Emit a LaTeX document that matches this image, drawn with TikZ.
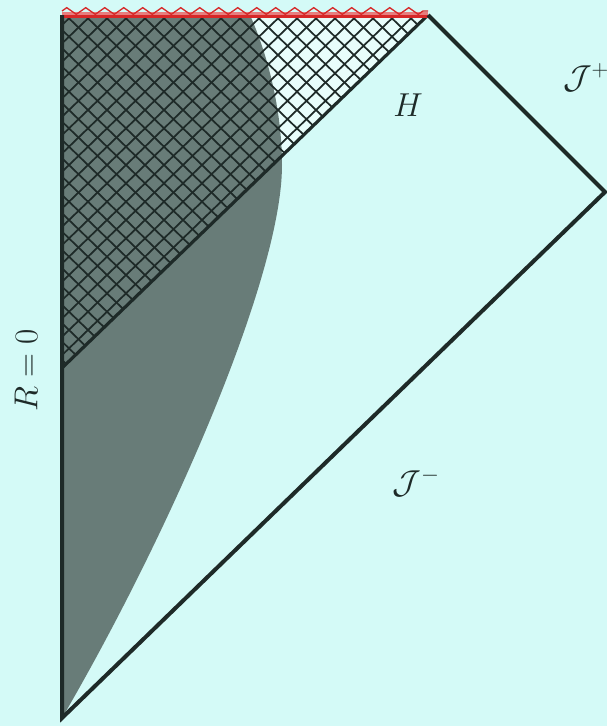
\documentclass[tikz,border=0pt]{standalone}
\usepackage{amsmath,amssymb}
\usepackage{tikz}
\usetikzlibrary{decorations.pathmorphing}
\usepackage{xcolor}
\definecolor{sky}{RGB}{212,250,247}
\definecolor{pale}{RGB}{232,253,251}
\definecolor{star}{RGB}{104,124,120}
\definecolor{ink}{RGB}{30,42,40}
\definecolor{sing}{RGB}{215,40,40}
\tikzset{
  edge/.style={draw=ink,line width=3pt,line join=miter},
  horizon/.style={draw=ink,line width=2.4pt},
  hatch/.style={draw=ink,line width=1.3pt},
  lbl/.style={text=ink,font=\fontsize{23}{28}\selectfont,inner sep=0pt},
}

\begin{document}
\begin{tikzpicture}[x=0.75pt,y=-0.75pt]
  \fill[sky] (0,0) rectangle (607,726);
  \useasboundingbox (0,0) rectangle (607,726);
  \coordinate (O) at (62,718);
  \coordinate (rtop) at (62,15);
  \coordinate (iplus) at (428,15);
  \coordinate (izero) at (605,192);
  \coordinate (hbase) at (62,368);
  \coordinate (stop) at (250,15);
  \coordinate (sbulge) at (282,165);
  \fill[pale] (rtop) -- (iplus) -- (hbase) -- cycle;
  \fill[star] (O) -- (rtop) -- (stop) .. controls (270,60) and (282,115) .. (sbulge)
    .. controls (282,280) and (165,542) .. (O) -- cycle;
  \begin{scope}
    \clip (rtop) -- (iplus) -- (hbase) -- cycle;
    \foreach \c in {-900,-881,...,1300}{
      \draw[hatch] (\c,0) -- ++(800,772);
      \draw[hatch] (\c,0) -- ++(-800,772);
    }
  \end{scope}
  \draw[horizon] (hbase) -- (iplus);
  \draw[sing!60,line width=4pt] (rtop) -- (iplus);
  \draw[sing,line width=1.8pt] ([yshift=-1pt]rtop) -- ([yshift=-1pt]iplus);
  \draw[sing,line width=1pt,decorate,decoration={zigzag,segment length=19*0.75pt,amplitude=2.5pt}]
    ([yshift=3pt]rtop) -- ([yshift=3pt]iplus);
  \draw[edge] (rtop) -- (O) -- (izero) -- (iplus);
  \node[lbl] (scriplus) at (586,78) {$\mathcal{J}^+$};
  \node[lbl] (hlabel) at (408,105) {$H$};
  \node[lbl] (scriminus) at (416,482) {$\mathcal{J}^-$};
  \node[lbl,rotate=90] (rzero) at (26,370) {$R=0$};
\end{tikzpicture}
\end{document}
